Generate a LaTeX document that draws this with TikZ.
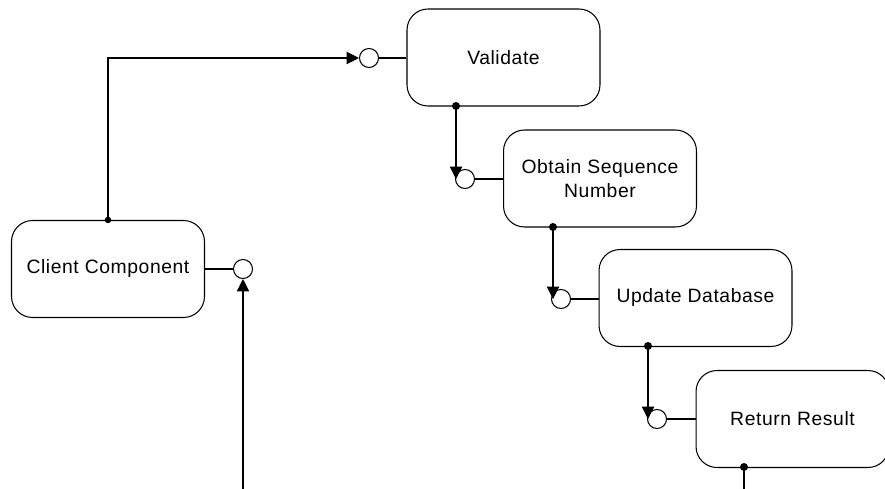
\documentclass[tikz,border=0pt]{standalone}
\usepackage{fontspec}
\setmainfont[LetterSpace=3]{Liberation Sans}
\usetikzlibrary{positioning,arrows.meta}

\begin{document}
\begin{tikzpicture}[x=0.02cm,y=-0.02cm]
\tikzstyle{task}=[draw,rounded corners=0.42cm,minimum width=3.86cm,minimum height=1.94cm,align=center,font=\fontsize{11}{14}\selectfont,line width=.6pt]
\tikzstyle{port}=[circle,draw,fill=white,minimum size=0.38cm,inner sep=0pt,line width=.6pt]
\tikzstyle{dot}=[circle,fill=black,minimum size=0.16cm,inner sep=0pt]
\tikzstyle{flow}=[-{Triangle[length=7pt,width=7pt]},line width=.6pt]
    \useasboundingbox (0,0) rectangle (885,489);
    % tasks
    \node[task] (validate) at (503.5,57.5) {Validate};
    \node[task] (obtain) at (600,178.5) {Obtain Sequence\\Number};
    \node[task] (client) at (108,269) {Client Component};
    \node[task] (update) at (695.5,298) {Update Database};
    \node[task] (result) at (792.5,419) {Return Result};
    % ports
    \node[port] (vp) at (369,58) {};
    \node[port] (op) at (465,179) {};
    \node[port] (cp) at (243,269) {};
    \node[port] (up) at (561,299) {};
    \node[port] (rp) at (657,419) {};
    \draw[line width=.6pt] (vp) -- (vp -| validate.west);
    \draw[line width=.6pt] (op) -- (op -| obtain.west);
    \draw[line width=.6pt] (cp) -- (cp -| client.east);
    \draw[line width=.6pt] (up) -- (up -| update.west);
    \draw[line width=.6pt] (rp) -- (rp -| result.west);
    % outputs
    \node[dot,minimum size=0.13cm] (cd) at (client.north) {};
    \node[dot] (vd) at (456,106) {};
    \node[dot] (od) at (553,227) {};
    \node[dot] (ud) at (648,346) {};
    \node[dot] (rd) at (744,467) {};
    \coordinate (cin) at (243,489);
    \coordinate (rout) at (744,489);
    \draw[flow] (cd.center) |- (vp.west);
    \draw[flow] (vd.center) -- (vd |- op.west);
    \draw[flow] (od.center) -- (od |- up.west);
    \draw[flow] (ud.center) -- (ud |- rp.west);
    \draw[flow] (cin) -- (cp.south);
    \draw[line width=.6pt] (rd.center) -- (rout);
  \end{tikzpicture}
\end{document}
